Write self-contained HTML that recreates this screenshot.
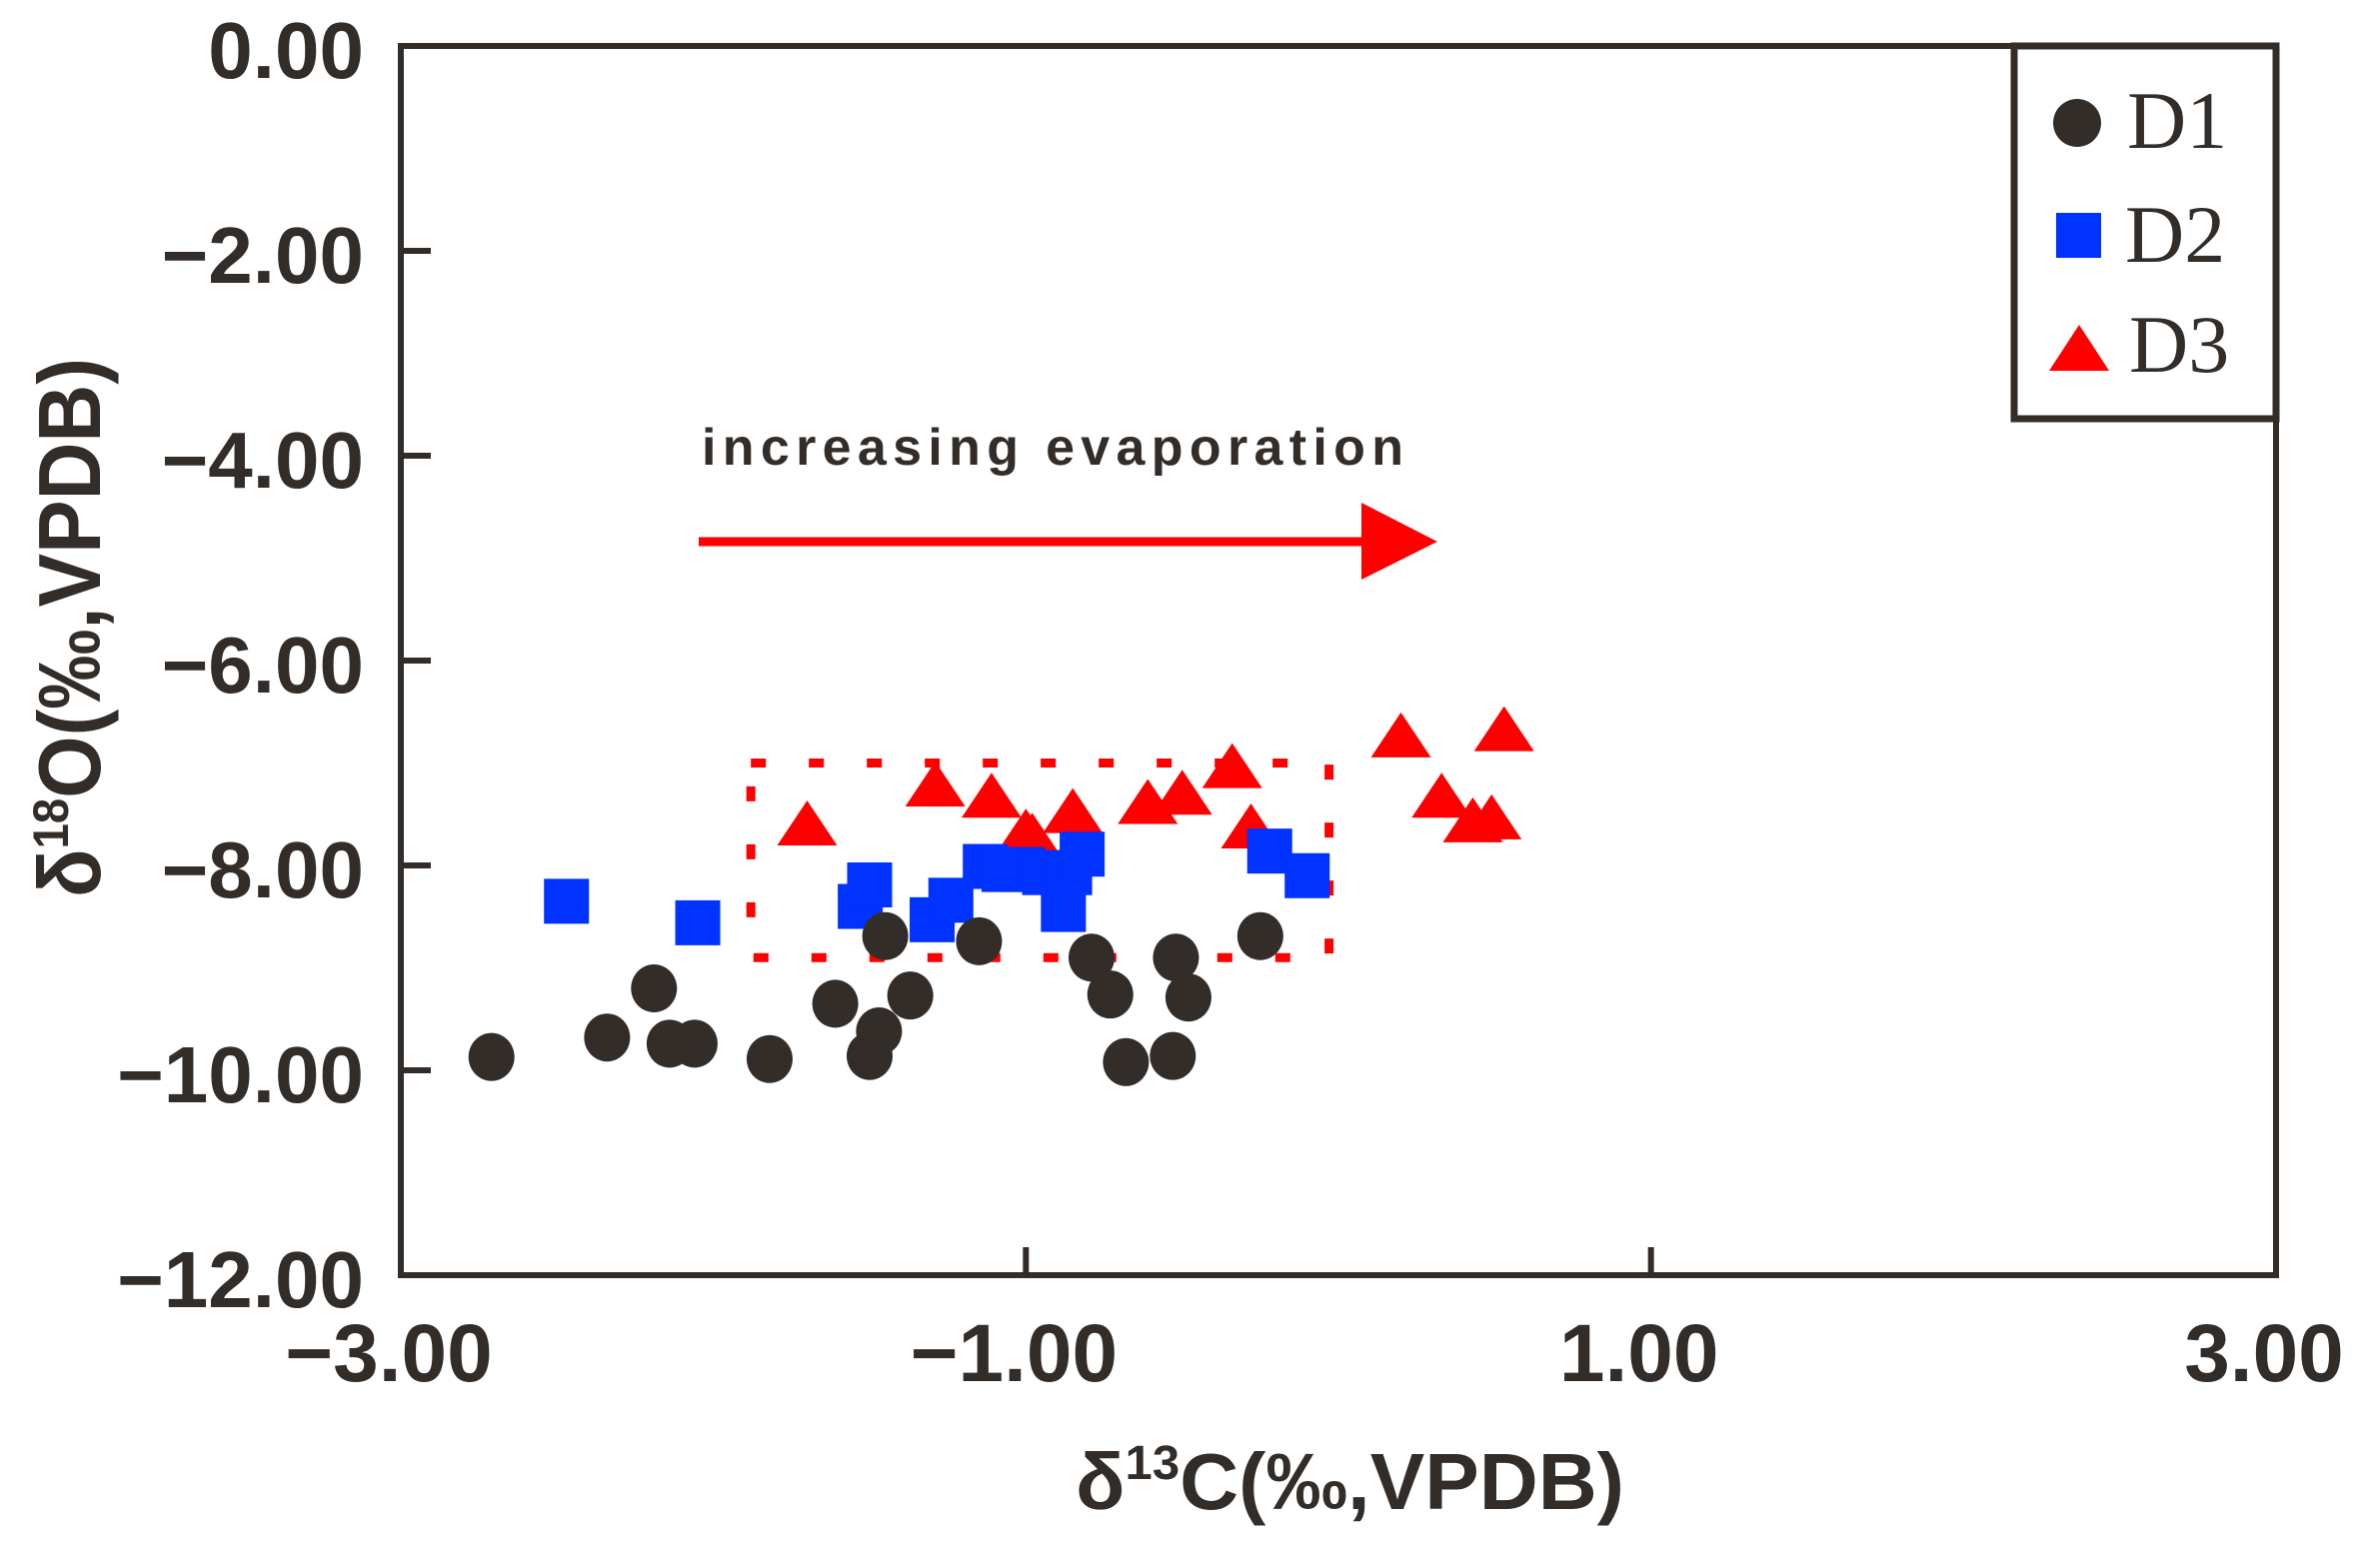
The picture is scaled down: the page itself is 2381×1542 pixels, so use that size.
<!DOCTYPE html>
<html><head><meta charset="utf-8"><style>
html,body{margin:0;padding:0;background:#fff;}
svg{display:block;}
</style></head><body>
<svg id="chart" width="2381" height="1542" viewBox="0 0 2381 1542" xmlns="http://www.w3.org/2000/svg">
<g id="plot"></g>
</svg>
<script>
const xTicks=[-3,-1,1,3];
const xTickLabels=["\u22123.00","\u22121.00","1.00","3.00"];
const yTicks=[0,-2,-4,-6,-8,-10,-12];
const yTickLabels=["0.00","\u22122.00","\u22124.00","\u22126.00","\u22128.00","\u221210.00","\u221212.00"];
const d1x=[-2.71,-2.34,-2.19,-2.14,-2.06,-1.82,-1.61,-1.50,-1.47,-1.45,-1.37,-1.15,-0.79,-0.73,-0.68,-0.53,-0.52,-0.48,-0.25];
const d1y=[-9.87,-9.68,-9.20,-9.74,-9.74,-9.89,-9.35,-9.86,-9.62,-8.69,-9.27,-8.74,-8.90,-9.26,-9.92,-9.86,-8.90,-9.29,-8.69];
const d2x=[-2.47,-2.05,-1.53,-1.50,-1.30,-1.24,-1.13,-1.07,-1.01,-0.94,-0.88,-0.86,-0.82,-0.22,-0.10];
const d2y=[-8.35,-8.56,-8.40,-8.19,-8.53,-8.34,-8.01,-8.04,-8.04,-8.07,-8.43,-8.07,-7.89,-7.86,-8.10];
const d3x=[-1.70,-1.29,-1.11,-1.00,-0.98,-0.85,-0.61,-0.50,-0.34,-0.28,0.20,0.33,0.43,0.49,0.53];
const d3y=[-7.59,-7.21,-7.32,-7.67,-7.71,-7.47,-7.38,-7.29,-7.03,-7.62,-6.73,-7.32,-7.56,-7.53,-6.67];
const boxX=[-1.88,-0.03];
const boxY=[-7.0,-8.9];

const L=401,R=2277,T=46,B=1276;
const sx=v=>L+(v+3)/6*(R-L);
const sy=v=>T+(-v)/12*(B-T);
const NS="http://www.w3.org/2000/svg";
const g=document.getElementById('plot');
const dark="#332d2a";
function mk(tag,attrs,parent){const e=document.createElementNS(NS,tag);for(const k in attrs)e.setAttribute(k,attrs[k]);(parent||g).appendChild(e);return e;}

let e=mk('rect',{x:sx(boxX[0]),y:sy(boxY[0]),width:sx(boxX[1])-sx(boxX[0]),height:sy(boxY[1])-sy(boxY[0]),fill:'none',stroke:'#ff0000','stroke-width':9,'stroke-dasharray':'15 43'});



for(let i=0;i<d3x.length;i++){const cx=sx(d3x[i]),cy=sy(d3y[i]);
 e=mk('polygon',{points:`${cx-30},${cy+22} ${cx+30},${cy+22} ${cx},${cy-23}`,fill:'#ff0000'});
 
 }
for(let i=0;i<d2x.length;i++){const cx=sx(d2x[i]),cy=sy(d2y[i]);
 e=mk('rect',{x:cx-22.5,y:cy-22.5,width:45,height:45,fill:'#0033ff'});
 
 }
for(let i=0;i<d1x.length;i++){
 e=mk('ellipse',{cx:sx(d1x[i]),cy:sy(d1y[i]),rx:23,ry:24,fill:dark});
 
 }

e=mk('rect',{x:L,y:T,width:R-L,height:B-T,fill:'none',stroke:dark,'stroke-width':6});



for(let i=0;i<yTicks.length;i++){const y=sy(yTicks[i]);
 if(i>0&&i<yTicks.length-1){e=mk('line',{x1:L,x2:L+30,y1:y,y2:y,stroke:dark,'stroke-width':6});
 
 }
 e=mk('text',{x:364,y:y+32,'text-anchor':'end','font-family':'Liberation Sans, sans-serif','font-weight':'bold','font-size':80,fill:dark});
 e.textContent=yTickLabels[i];
 
 }
for(let i=0;i<xTicks.length;i++){const x=sx(xTicks[i]);
 if(i>0&&i<xTicks.length-1){e=mk('line',{x1:x,x2:x,y1:B,y2:B-28,stroke:dark,'stroke-width':6});
 
 }
 e=mk('text',{x:x-12,y:1382,'text-anchor':'middle','font-family':'Liberation Sans, sans-serif','font-weight':'bold','font-size':82,fill:dark});
 e.textContent=xTickLabels[i];
 
 }
</script>
<svg style="position:absolute;left:0;top:0" width="2381" height="1542" viewBox="0 0 2381 1542" xmlns="http://www.w3.org/2000/svg">
<g>
<line x1="699" y1="542" x2="1370" y2="542" stroke="#ff0000" stroke-width="9"/>
<polygon points="1362,503 1438,542 1362,580" fill="#ff0000"/>
</g>
<text x="702" y="465" font-family="Liberation Sans, sans-serif" font-weight="bold" font-size="52" fill="#332d2a" textLength="702" lengthAdjust="spacing">increasing evaporation</text>
<g>
<rect x="2015" y="46" width="262" height="373" fill="#fff" stroke="#332d2a" stroke-width="7"/>
<circle cx="2078" cy="123" r="24" fill="#332d2a"/>
<rect x="2057" y="213" width="45" height="45" fill="#0033ff"/>
<polygon points="2050,371 2110,371 2080,325" fill="#ff0000"/>
<text x="2128" y="148" font-family="Liberation Serif, serif" font-size="82" fill="#332d2a">D1</text>
<text x="2126" y="262" font-family="Liberation Serif, serif" font-size="82" fill="#332d2a">D2</text>
<text x="2130" y="372" font-family="Liberation Serif, serif" font-size="82" fill="#332d2a">D3</text>
</g>
<text x="1076" y="1510" font-family="Liberation Sans, sans-serif" font-weight="bold" font-size="80" fill="#332d2a" textLength="549" lengthAdjust="spacingAndGlyphs">δ<tspan font-size="48" dy="-30">13</tspan><tspan dy="30">C(‰,VPDB)</tspan></text>
<text transform="translate(100,898) rotate(-90)" x="0" y="0" font-family="Liberation Sans, sans-serif" font-weight="bold" font-size="88" fill="#332d2a" textLength="540" lengthAdjust="spacingAndGlyphs">δ<tspan font-size="50" dy="-32">18</tspan><tspan dy="32">O(‰,VPDB)</tspan></text>
</svg>
</body></html>
